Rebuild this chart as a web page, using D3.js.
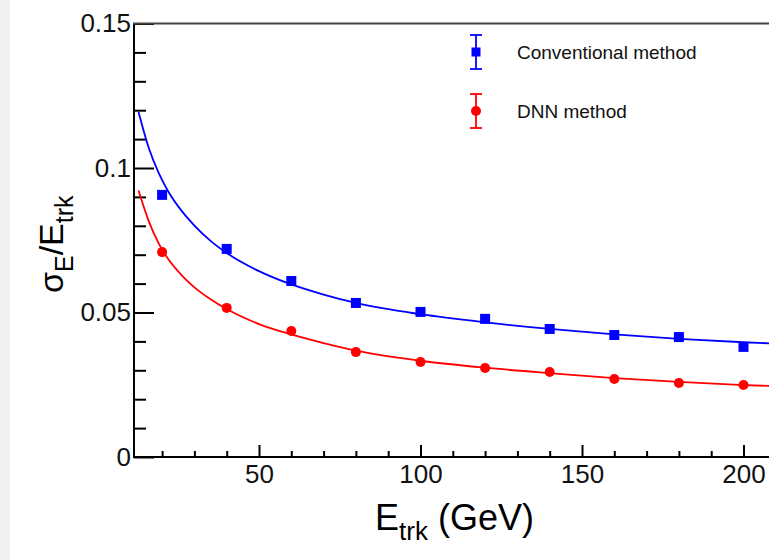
<!DOCTYPE html>
<html>
<head>
<meta charset="utf-8">
<script src="https://cdn.jsdelivr.net/npm/d3@7"></script>
<style>
  html, body { margin: 0; padding: 0; background: #fff; }
  #wrapper { width: 769px; height: 560px; overflow: hidden; }
  text { font-family: "Liberation Sans", Arial, sans-serif; }
</style>
</head>
<body>
<div id="wrapper"></div>
<script>
// measured points
const energies = [20, 40, 60, 80, 100, 120, 140, 160, 180, 200];
const conventional = [0.0907, 0.0720, 0.0609, 0.0533, 0.0502, 0.0478, 0.0443, 0.0422, 0.0415, 0.0381];
const dnn = [0.0709, 0.0516, 0.0436, 0.0363, 0.0329, 0.0308, 0.0294, 0.0270, 0.0256, 0.0249];

// fit curves
const fitEnergies = [12.7, 15.8, 18.9, 22, 26.3, 30, 35, 40, 50, 60, 70, 80, 100, 120, 140, 160, 180, 200, 220];
const conventionalFit = [0.1194, 0.1072, 0.0984, 0.0917, 0.0848, 0.0801, 0.0748, 0.0706, 0.0643, 0.0597, 0.0562, 0.0533, 0.0494, 0.0466, 0.0443, 0.0424, 0.0409, 0.0397, 0.0388];
const dnnFit = [0.0922, 0.0818, 0.0740, 0.0683, 0.0626, 0.0587, 0.0546, 0.0512, 0.0460, 0.0424, 0.0394, 0.0368, 0.0333, 0.0309, 0.0290, 0.0273, 0.0260, 0.0249, 0.0241];

const xMajorTicks = [50, 100, 150, 200];
const xTickLabels = ["50", "100", "150", "200"];
const xMinorTicks = [20, 30, 40, 60, 70, 80, 90, 110, 120, 130, 140, 160, 170, 180, 190, 210];
const yMajorTicks = [0, 0.05, 0.1, 0.15];
const yTickLabels = ["0", "0.05", "0.1", "0.15"];
const yMinorTicks = [0.01, 0.02, 0.03, 0.04, 0.06, 0.07, 0.08, 0.09, 0.11, 0.12, 0.13, 0.14];

const legendNames = ["Conventional method", "DNN method"];

function drawChart() {
  const blue = "#0000ff";
  const red = "#ff0000";

  let dimensions = {
    width: 769,
    height: 560,
    margin: { top: 23.5, right: 0, bottom: 103, left: 134 }
  };
  dimensions.boundedWidth = (220 - 11.3) * 3.23;
  dimensions.boundedHeight =
    dimensions.height - dimensions.margin.top - dimensions.margin.bottom;

  const wrapper = d3
    .select("#wrapper")
    .append("svg")
    .attr("width", dimensions.width)
    .attr("height", dimensions.height);

  // light grey strip at the left edge
  wrapper.append("rect")
    .attr("x", 0).attr("y", 0)
    .attr("width", 10).attr("height", dimensions.height)
    .attr("fill", "#f1f1f1");

  const bounds = wrapper
    .append("g")
    .attr("transform", `translate(${dimensions.margin.left}, ${dimensions.margin.top})`);

  const xScale = d3.scaleLinear()
    .domain([11.3, 220])
    .range([0, dimensions.boundedWidth]);
  const yScale = d3.scaleLinear()
    .domain([0, 0.15])
    .range([dimensions.boundedHeight, 0]);

  // axes
  const xMajor = d3.axisBottom(xScale)
    .tickValues(xMajorTicks)
    .tickSize(-12)
    .tickPadding(8)
    .tickFormat((d, i) => xTickLabels[i]);
  const xMinor = d3.axisBottom(xScale)
    .tickValues(xMinorTicks)
    .tickSize(-6)
    .tickFormat("");
  const yMajor = d3.axisLeft(yScale)
    .tickValues(yMajorTicks)
    .tickSize(-20)
    .tickPadding(3)
    .tickFormat((d, i) => yTickLabels[i]);
  const yMinor = d3.axisLeft(yScale)
    .tickValues(yMinorTicks)
    .tickSize(-12)
    .tickFormat("");

  const axes = [
    [xMajor, `translate(0, ${dimensions.boundedHeight})`],
    [xMinor, `translate(0, ${dimensions.boundedHeight})`],
    [yMajor, null],
    [yMinor, null]
  ];
  axes.forEach(([gen, tr]) => {
    const g = bounds.append("g").call(gen);
    if (tr) g.attr("transform", tr);
    g.select(".domain").remove();
    g.selectAll(".tick line").attr("stroke", "#000").attr("stroke-width", 2);
    g.selectAll(".tick text")
      .attr("fill", "#111")
      .style("font-size", "26px");
  });

  // frame
  bounds.append("line")
    .attr("x1", 0).attr("x2", 0)
    .attr("y1", 0).attr("y2", dimensions.boundedHeight)
    .attr("stroke", "#000").attr("stroke-width", 2);
  bounds.append("line")
    .attr("x1", -1).attr("x2", dimensions.boundedWidth)
    .attr("y1", dimensions.boundedHeight).attr("y2", dimensions.boundedHeight)
    .attr("stroke", "#000").attr("stroke-width", 2);
  bounds.append("line")
    .attr("x1", -1).attr("x2", dimensions.boundedWidth)
    .attr("y1", 0).attr("y2", 0)
    .attr("stroke", "#444").attr("stroke-width", 2);

  // fit curves
  const lineGenerator = d3.line()
    .x(d => xScale(d[0]))
    .y(d => yScale(d[1]))
    .curve(d3.curveMonotoneX);
  const fits = [[conventionalFit, blue], [dnnFit, red]];
  fits.forEach(([vals, color]) => {
    bounds.append("path")
      .datum(fitEnergies.map((e, i) => [e, vals[i]]))
      .attr("d", lineGenerator)
      .attr("fill", "none")
      .attr("stroke", color)
      .attr("stroke-width", 1.8);
  });

  // points
  bounds.selectAll(".conv")
    .data(energies.map((e, i) => [e, conventional[i]]))
    .enter()
    .append("rect")
    .attr("class", "conv")
    .attr("x", d => xScale(d[0]) - 5)
    .attr("y", d => yScale(d[1]) - 5)
    .attr("width", 10)
    .attr("height", 10)
    .attr("fill", blue);
  bounds.selectAll(".dnn")
    .data(energies.map((e, i) => [e, dnn[i]]))
    .enter()
    .append("circle")
    .attr("class", "dnn")
    .attr("cx", d => xScale(d[0]))
    .attr("cy", d => yScale(d[1]))
    .attr("r", 5)
    .attr("fill", red);

  // legend
  const legend = wrapper.append("g");
  const legendItems = [
    { name: legendNames[0], color: blue, y: 52, shape: "square" },
    { name: legendNames[1], color: red, y: 111, shape: "circle" }
  ];
  legendItems.forEach(item => {
    const g = legend.append("g").attr("transform", `translate(476, ${item.y})`);
    g.append("line").attr("x1", 0).attr("x2", 0).attr("y1", -17).attr("y2", 17)
      .attr("stroke", item.color).attr("stroke-width", 1.8);
    [-17, 17].forEach(cy => {
      g.append("line").attr("x1", -6).attr("x2", 6).attr("y1", cy).attr("y2", cy)
        .attr("stroke", item.color).attr("stroke-width", 1.8);
    });
    if (item.shape === "square") {
      g.append("rect").attr("x", -4.5).attr("y", -4.5).attr("width", 9).attr("height", 9)
        .attr("fill", item.color);
    } else {
      g.append("circle").attr("r", 5).attr("fill", item.color);
    }
    g.append("text")
      .attr("x", 41)
      .attr("y", 7)
      .attr("fill", "#111")
      .style("font-size", "19px")
      .text(item.name);
  });

  // axis titles
  const xTitle = wrapper.append("text")
    .attr("x", 375)
    .attr("y", 530)
    .attr("fill", "#000")
    .style("font-size", "36px");
  xTitle.append("tspan").text("E");
  xTitle.append("tspan").attr("dy", 10).style("font-size", "26px").text("trk");
  xTitle.append("tspan").attr("dy", -10).text(" (GeV)");

  const yTitle = wrapper.append("text")
    .attr("transform", "translate(63, 293) rotate(-90)")
    .attr("fill", "#000")
    .style("font-size", "34px");
  yTitle.append("tspan").text("σ");
  yTitle.append("tspan").attr("dy", 10).style("font-size", "25px").text("E");
  yTitle.append("tspan").attr("dy", -10).text("/E");
  yTitle.append("tspan").attr("dy", 10).style("font-size", "25px").text("trk");
}

drawChart();
</script>
</body>
</html>
